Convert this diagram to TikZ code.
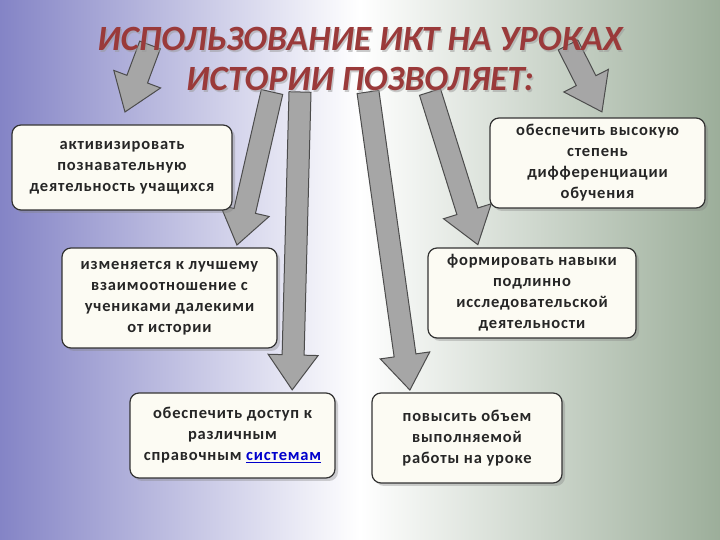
\documentclass[tikz,border=0pt]{standalone}
\usepackage{fontspec}
\setmainfont{Carlito}
\newfontfamily\boxfont[LetterSpace=5]{Carlito}
\usetikzlibrary{shadows}
\definecolor{bgL}{HTML}{8484C6}
\definecolor{bgR}{HTML}{9CAE9A}
\definecolor{ttl}{HTML}{9A3A3A}
\definecolor{boxf}{HTML}{FCFBF3}
\definecolor{arr}{HTML}{A6A6A6}
\tikzset{
  box/.style={draw=black!80, line width=1.2pt, fill=boxf, rounded corners=9pt, align=center, font=\boxfont\fontsize{16.5}{21}\selectfont\bfseries, text=black!85, drop shadow={opacity=0.35, shadow xshift=3pt, shadow yshift=-3pt}},
  fatarr/.style={fill=arr, draw=black!70, line width=1pt, line join=miter}
}
\newcommand{\fatarrow}[4]{% x,y,angle,length
  \begin{scope}[shift={(#1pt,#2pt)}, rotate=#3]
    \draw[fatarr] (0,-11pt)--(#4pt-35pt,-11pt)--(#4pt-35pt,-25pt)--(#4pt,0)--(#4pt-35pt,25pt)--(#4pt-35pt,11pt)--(0,11pt)--cycle;
  \end{scope}}
\begin{document}
\begin{tikzpicture}[x=1pt,y=1pt]
\useasboundingbox (0,0) rectangle (720,540);
\shade[left color=bgL, right color=bgR, middle color=white] (0,0) rectangle (720,540);
\fatarrow{150}{495}{-110.5}{71.5}
\fatarrow{568}{495}{-63.1}{75}
\fatarrow{272}{448}{-102.9}{157}
\fatarrow{300}{448}{-91.5}{298}
\fatarrow{368}{448}{-82.0}{301}
\fatarrow{430}{448}{-72.6}{160}
\node[font=\fontsize{35.5}{40}\selectfont\bfseries\itshape, text=black!40, align=center, opacity=0.5] at (361.5,479.5) {ИСПОЛЬЗОВАНИЕ ИКТ НА УРОКАХ\\ИСТОРИИ ПОЗВОЛЯЕТ:};
\node[font=\fontsize{35.5}{40}\selectfont\bfseries\itshape, text=ttl, align=center] (title) at (360,481) {ИСПОЛЬЗОВАНИЕ ИКТ НА УРОКАХ\\ИСТОРИИ ПОЗВОЛЯЕТ:};
\node[box, minimum width=220, minimum height=85] (b1) at (122,372.5) {активизировать\\познавательную\\деятельность учащихся};
\node[box, minimum width=215, minimum height=100] (b2) at (169.5,242) {изменяется к лучшему\\взаимоотношение с\\учениками далекими\\от истории};
\node[box, minimum width=205, minimum height=85] (b3) at (232.5,104.5) {обеспечить доступ к\\различным\\справочным \textcolor{blue!80!black}{\underline{системам}}};
\node[box, minimum width=190, minimum height=90] (b4) at (467,102) {повысить объем\\выполняемой\\работы на уроке};
\node[box, minimum width=208, minimum height=90] (b5) at (532,247) {формировать навыки\\подлинно\\исследовательской\\деятельности};
\node[box, minimum width=215, minimum height=90] (b6) at (597.5,377) {обеспечить высокую\\степень\\дифференциации\\обучения};
\end{tikzpicture}
\end{document}
